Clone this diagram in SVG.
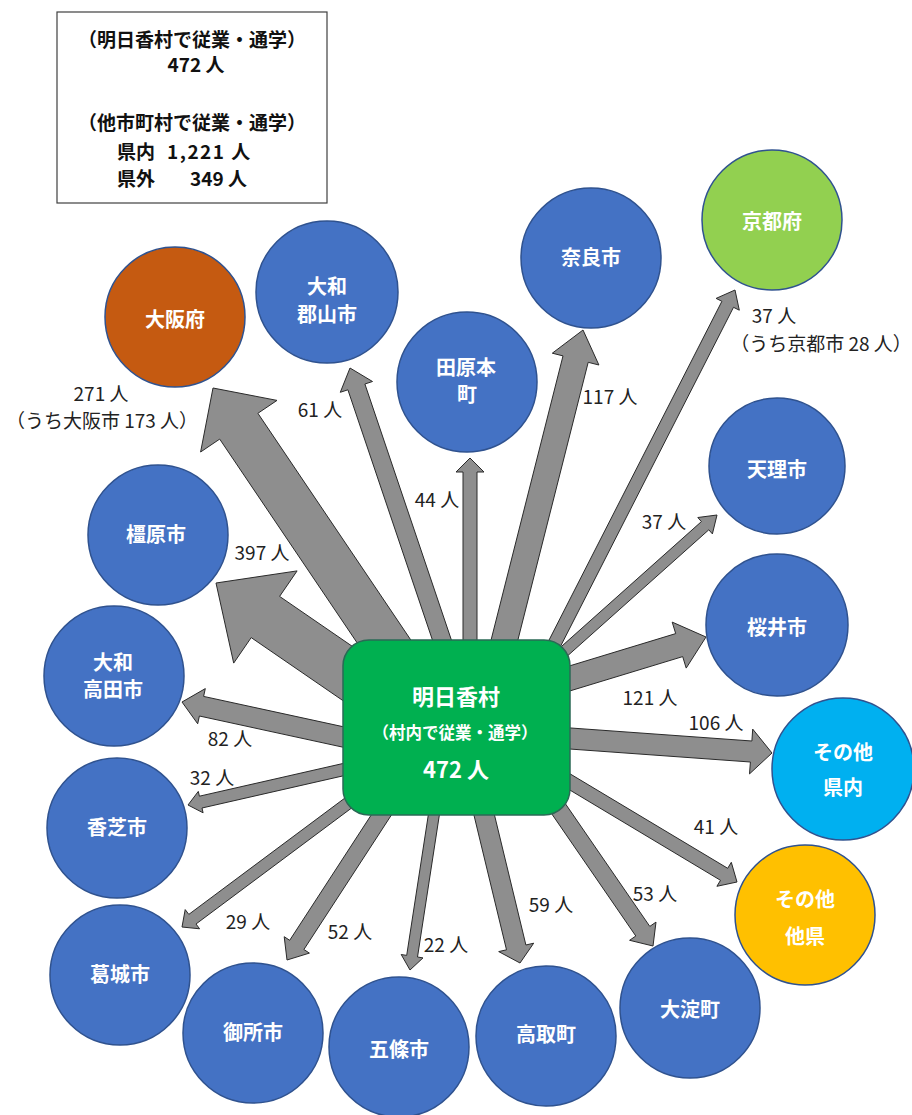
<svg xmlns="http://www.w3.org/2000/svg" width="912" height="1115" viewBox="0 0 912 1115">
<style>
.bg{fill:#ffffff}
.info{fill:#ffffff;stroke:#404040;stroke-width:1.2}
.it{font-family:"Noto Sans CJK JP","Noto Sans",sans-serif;font-weight:bold;font-size:19px;fill:#111}
.c{stroke:#2F528F;stroke-width:1.5}
.blue{fill:#4472C4}
.orange{fill:#C55A11}
.lgreen{fill:#92D050}
.sky{fill:#00B0F0}
.yellow{fill:#FFC000}
.ct{font-family:"Noto Sans CJK JP","Noto Sans",sans-serif;font-weight:bold;font-size:20px;fill:#ffffff;text-anchor:middle}
.arr polygon{fill:#8e8e8e;stroke:#2a2a2a;stroke-width:1;stroke-linejoin:miter}
.lb{font-family:"Noto Sans CJK JP","Noto Sans",sans-serif;font-size:19px;fill:#222;text-anchor:middle}
.hub{fill:#00B050;stroke:#2a6a55;stroke-width:1.5}
.ht{font-family:"Noto Sans CJK JP","Noto Sans",sans-serif;font-weight:bold;fill:#ffffff;text-anchor:middle}
</style>
<rect class="bg" x="0" y="0" width="912" height="1115"/>

<g id="info">
<rect class="info" x="57" y="12" width="270" height="191"/>
<text class="it" x="192" y="47" text-anchor="middle">（明日香村で従業・通学）</text>
<text class="it" x="196" y="72" text-anchor="middle">472 人</text>
<text class="it" x="192" y="130" text-anchor="middle">（他市町村で従業・通学）</text>
<text class="it" x="117" y="159">県内 <tspan x="167" letter-spacing="1.5">1,221 人</tspan></text>
<text class="it" x="117" y="186">県外<tspan x="190">349 人</tspan></text>
</g>

<g id="node-osaka"><circle class="c orange" cx="175" cy="317" r="70"/><text class="ct" x="175" y="327">大阪府</text></g>
<g id="node-yamatokoriyama"><circle class="c blue" cx="327" cy="292" r="71"/><text class="ct" x="327" y="294">大和</text><text class="ct" x="327" y="322">郡山市</text></g>
<g id="node-nara"><circle class="c blue" cx="591" cy="258" r="70"/><text class="ct" x="591" y="265">奈良市</text></g>
<g id="node-kyoto"><circle class="c lgreen" cx="772" cy="220" r="70"/><text class="ct" x="772" y="229">京都府</text></g>
<g id="node-tawaramoto"><circle class="c blue" cx="467" cy="382" r="70"/><text class="ct" x="466" y="375">田原本</text><text class="ct" x="467" y="402">町</text></g>
<g id="node-tenri"><circle class="c blue" cx="777" cy="466" r="68"/><text class="ct" x="777" y="477">天理市</text></g>
<g id="node-sakurai"><circle class="c blue" cx="777" cy="625" r="71"/><text class="ct" x="777" y="635">桜井市</text></g>
<g id="node-other-pref"><circle class="c sky" cx="843" cy="769" r="71"/><text class="ct" x="843" y="760">その他</text><text class="ct" x="843" y="795">県内</text></g>
<g id="node-other-outside"><circle class="c yellow" cx="805" cy="915" r="70"/><text class="ct" x="805" y="907">その他</text><text class="ct" x="805" y="944">他県</text></g>
<g id="node-oyodo"><circle class="c blue" cx="690" cy="1008" r="70"/><text class="ct" x="690" y="1017">大淀町</text></g>
<g id="node-takatori"><circle class="c blue" cx="546" cy="1036" r="70"/><text class="ct" x="546" y="1042">高取町</text></g>
<g id="node-gojo"><circle class="c blue" cx="399" cy="1047" r="70"/><text class="ct" x="399" y="1057">五條市</text></g>
<g id="node-gose"><circle class="c blue" cx="253" cy="1033" r="70"/><text class="ct" x="253" y="1040">御所市</text></g>
<g id="node-katsuragi"><circle class="c blue" cx="120" cy="975" r="70"/><text class="ct" x="120" y="982">葛城市</text></g>
<g id="node-kashiba"><circle class="c blue" cx="117" cy="828" r="70"/><text class="ct" x="117" y="835">香芝市</text></g>
<g id="node-yamatotakada"><circle class="c blue" cx="114" cy="676" r="70"/><text class="ct" x="113" y="670">大和</text><text class="ct" x="113" y="697">高田市</text></g>
<g id="node-kashihara"><circle class="c blue" cx="158" cy="535" r="70"/><text class="ct" x="156" y="542">橿原市</text></g>

<g id="connectors" class="arr">
<polygon points="213,388 200.6,452 219.7,439.1 406.7,716.3 444.9,690.5 257.9,413.3 277,400.4"/>
<polygon points="216,583 297.1,570.9 279.6,596.4 444.4,709.6 416,750.8 251.2,637.6 233.7,663.1"/>
<polygon points="350,368 340.3,392.3 347.9,389.8 447.1,683.4 464.1,677.6 364.9,384 372.5,381.5"/>
<polygon points="470,458 456,472 463,472 463,700 477,700 477,472 484,472"/>
<polygon points="583,330 552.3,353.2 563,355.9 482,675.8 507.2,682.2 588.2,362.3 598.9,365"/>
<polygon points="735,290 716.1,298.4 721.9,301.3 530.2,677 541.8,683 733.5,307.3 739.3,310.2"/>
<polygon points="717,515 697.8,517.5 701.4,521.6 541.7,664.1 549.1,672.3 708.8,529.8 712.4,533.9"/>
<polygon points="706,637 672.2,622.1 675.7,633.6 511.1,683.7 518.1,706.7 682.7,656.6 686.2,668.1"/>
<polygon points="772,753 752.7,729.1 751.9,741 473.5,721 472,742 750.4,762 749.5,773.9"/>
<polygon points="737,882 731.3,862.3 727.7,868.3 483.2,721.8 476,733.8 720.5,880.3 716.9,886.3"/>
<polygon points="653,946 656,922.1 649.8,926.4 489.9,694 475.9,703.6 635.8,936 629.6,940.3"/>
<polygon points="520,963 533.7,943.2 525.9,945 459.2,669 439.8,673.7 506.5,949.8 498.7,951.6"/>
<polygon points="410,970 423,957.9 417.5,957 461,674.4 450.2,672.8 406.7,955.4 401.2,954.5"/>
<polygon points="287,960 309.4,953.1 303.9,949.5 484.9,671.3 470.7,662.1 289.7,940.3 284.2,936.7"/>
<polygon points="182,927 199.6,928.8 196,924 466.3,722.5 459.1,712.9 188.8,914.4 185.2,909.6"/>
<polygon points="188,805 203.1,812.8 202,808 462.3,748.7 459.7,736.9 199.4,796.2 198.3,791.4"/>
<polygon points="182,702 205.3,688.6 203.6,696.4 457.7,751.6 453.5,771.2 199.4,716 197.7,723.8"/>
</g>

<g id="node-asuka">
<rect class="hub" x="343" y="640" width="227" height="175" rx="26" ry="26"/>
<text class="ht" x="456" y="705" font-size="22">明日香村</text>
<text class="ht" x="455" y="739" font-size="16.5">（村内で従業・通学）</text>
<text class="ht" x="456" y="778" font-size="22">472 人</text>
</g>

<g id="labels">
<text class="lb" x="101" y="401">271 人</text>
<text class="lb" x="102" y="428">（うち大阪市 173 人）</text>
<text class="lb" x="320" y="417">61 人</text>
<text class="lb" x="437" y="507">44 人</text>
<text class="lb" x="610" y="404">117 人</text>
<text class="lb" x="774" y="323">37 人</text>
<text class="lb" x="821" y="351">（うち京都市 28 人）</text>
<text class="lb" x="664" y="529">37 人</text>
<text class="lb" x="650" y="705">121 人</text>
<text class="lb" x="716" y="730">106 人</text>
<text class="lb" x="716" y="834">41 人</text>
<text class="lb" x="655" y="901">53 人</text>
<text class="lb" x="551" y="912">59 人</text>
<text class="lb" x="446" y="952">22 人</text>
<text class="lb" x="350" y="939">52 人</text>
<text class="lb" x="248" y="929">29 人</text>
<text class="lb" x="212" y="785">32 人</text>
<text class="lb" x="230" y="746">82 人</text>
<text class="lb" x="262" y="560">397 人</text>
</g>
</svg>
